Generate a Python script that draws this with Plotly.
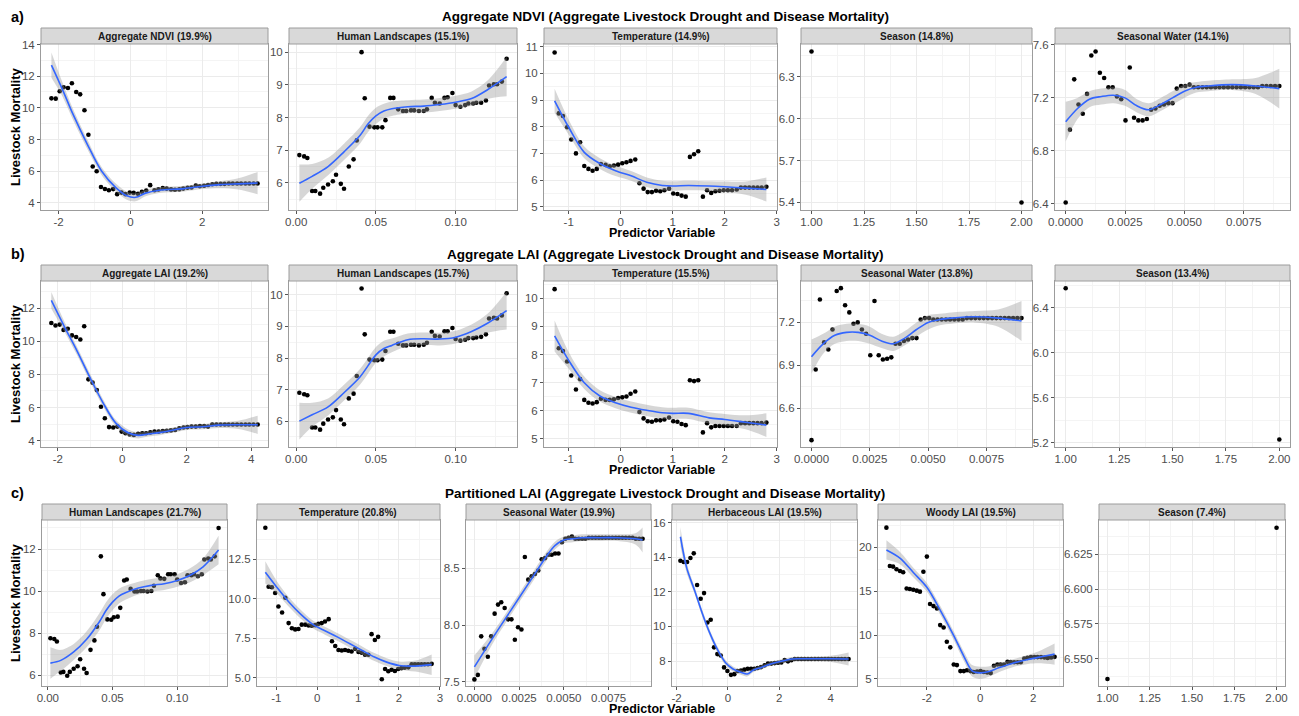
import plotly.graph_objects as go

W, H = 1299, 716
FONT = "Liberation Sans, Arial, Helvetica, sans-serif"

# ======================= DATA =======================
row_titles = ["Aggregate NDVI (Aggregate Livestock Drought and Disease Mortality)",
              "Aggregate LAI (Aggregate Livestock Drought and Disease Mortality)",
              "Partitioned LAI (Aggregate Livestock Drought and Disease Mortality)"]
row_tags = ["a)", "b)", "c)"]
y_title = "Livestock Mortality"
x_title = "Predictor Variable"

strip_a = ["Aggregate NDVI (19.9%)", "Human Landscapes (15.1%)", "Temperature (14.9%)",
           "Season (14.8%)", "Seasonal Water (14.1%)"]
strip_b = ["Aggregate LAI (19.2%)", "Human Landscapes (15.7%)", "Temperature (15.5%)",
           "Seasonal Water (13.8%)", "Season (13.4%)"]
strip_c = ["Human Landscapes (21.7%)", "Temperature (20.8%)", "Seasonal Water (19.9%)",
           "Herbaceous LAI (19.5%)", "Woody LAI (19.5%)", "Season (7.4%)"]

# shared predictor grids
hl_x = [0.002,0.005,0.007,0.010,0.012,0.015,0.017,0.020,0.023,0.025,0.028,0.030,0.033,0.036,0.038,
        0.041,0.043,0.046,0.049,0.051,0.054,0.056,0.059,0.061,0.064,0.067,0.069,0.072,0.074,0.077,
        0.080,0.082,0.085,0.087,0.090,0.093,0.095,0.098,0.100,0.103,0.106,0.108,0.111,0.113,0.116,
        0.119,0.121,0.124,0.126,0.129,0.132]
temp_x = [-1.27,-1.19,-1.11,-1.03,-0.95,-0.86,-0.78,-0.70,-0.62,-0.54,-0.46,-0.38,-0.29,-0.21,-0.13,
          -0.05,0.03,0.11,0.19,0.28,0.36,0.44,0.52,0.60,0.68,0.76,0.84,0.93,1.01,1.09,1.17,1.25,
          1.33,1.41,1.49,1.58,1.66,1.74,1.82,1.90,1.98,2.06,2.14,2.23,2.31,2.39,2.47,2.55,2.63,
          2.71,2.80]
sw_x = [0.00000,0.00018,0.00036,0.00054,0.00072,0.00090,0.00108,0.00126,0.00144,0.00162,0.00180,
        0.00198,0.00216,0.00234,0.00252,0.00270,0.00288,0.00306,0.00324,0.00342,0.00360,0.00378,
        0.00396,0.00414,0.00432,0.00450,0.00468,0.00486,0.00504,0.00522,0.00540,0.00558,0.00576,
        0.00594,0.00612,0.00630,0.00648,0.00666,0.00684,0.00702,0.00720,0.00738,0.00756,0.00774,
        0.00792,0.00810,0.00828,0.00846,0.00864,0.00882,0.00900]
season_x = [1.0, 2.0]
hl_fx = [0.002,0.01,0.02,0.03,0.04,0.045,0.05,0.055,0.06,0.07,0.08,0.09,0.10,0.11,0.12,0.132]
temp_fx = [-1.27,-1.0,-0.7,-0.4,-0.1,0.2,0.5,0.8,1.0,1.3,1.7,2.0,2.4,2.8]
sw_fx = [0.0,0.0005,0.001,0.0015,0.002,0.0025,0.003,0.0035,0.004,0.0045,0.005,0.0055,0.006,0.007,0.008,0.009]

# ---- row a ----
a1_x = [-2.20,-2.08,-1.97,-1.86,-1.74,-1.63,-1.51,-1.40,-1.28,-1.17,-1.05,-0.94,-0.82,-0.71,-0.60,
        -0.48,-0.37,-0.25,-0.14,-0.02,0.09,0.21,0.32,0.44,0.55,0.67,0.78,0.90,1.01,1.13,1.24,1.36,
        1.47,1.59,1.70,1.82,1.93,2.05,2.16,2.28,2.39,2.51,2.62,2.74,2.85,2.97,3.08,3.20,3.31,3.43,3.54]
a1_y = [10.60,10.58,11.05,11.30,11.25,11.55,11.00,10.85,9.85,8.30,6.30,6.00,5.00,4.88,4.80,4.87,
        4.55,4.65,4.55,4.65,4.63,4.58,4.70,4.78,5.12,4.80,4.85,4.93,4.90,4.85,4.83,4.85,4.90,4.95,
        4.97,5.10,5.05,5.08,5.13,5.18,5.20,5.20,5.20,5.22,5.22,5.22,5.22,5.22,5.22,5.22,5.22]
a1_fx = [-2.20,-1.90,-1.60,-1.20,-0.80,-0.40,-0.10,0.15,0.40,0.80,1.50,2.00,2.50,3.00,3.54]
a1_fy = [12.70,11.20,9.60,7.70,6.00,4.95,4.45,4.35,4.60,4.80,4.90,5.05,5.15,5.20,5.25]
a1_se = [0.80,0.45,0.35,0.30,0.25,0.25,0.25,0.25,0.20,0.18,0.18,0.18,0.22,0.35,0.70]

a2_y = [6.85,6.81,6.76,5.75,5.75,5.67,5.85,5.95,6.05,6.25,5.97,5.82,6.50,6.72,7.30,10.00,8.59,
        7.72,7.70,7.70,7.70,7.92,8.60,8.60,8.25,8.20,8.20,8.22,8.22,8.20,8.20,8.25,8.60,8.45,8.43,
        8.60,8.62,8.75,8.38,8.33,8.38,8.43,8.43,8.45,8.45,8.52,8.98,9.02,9.02,9.10,9.80]
a2_fy = [5.99,6.20,6.50,6.95,7.45,7.80,8.05,8.20,8.27,8.33,8.35,8.40,8.47,8.58,8.85,9.25]
a2_se = [0.57,0.38,0.27,0.25,0.25,0.25,0.25,0.22,0.22,0.20,0.20,0.20,0.20,0.22,0.28,0.60]

a3_y = [10.78,8.50,8.40,7.98,7.52,7.00,7.42,6.53,6.42,6.35,6.42,6.60,6.57,6.52,6.55,6.58,6.63,
        6.67,6.72,6.77,5.88,5.68,5.55,5.55,5.60,5.58,5.62,5.68,5.50,5.48,5.42,5.38,6.87,6.97,7.08,
        5.38,5.62,5.52,5.58,5.60,5.62,5.62,5.62,5.65,5.72,5.72,5.72,5.72,5.72,5.72,5.75]
a3_fy = [8.97,7.98,7.04,6.62,6.35,6.16,5.92,5.80,5.78,5.80,5.78,5.75,5.70,5.65]
a3_se = [0.45,0.28,0.22,0.20,0.20,0.18,0.18,0.18,0.18,0.18,0.18,0.20,0.25,0.45]

a4_y = [6.48, 5.40]

a5_y = [6.41,6.96,7.34,7.15,7.08,7.23,7.52,7.55,7.39,7.35,7.28,7.28,7.21,7.19,7.03,7.43,7.05,
        7.03,7.03,7.04,7.11,7.12,7.14,7.15,7.16,7.16,7.27,7.29,7.29,7.30,7.28,7.28,7.28,7.28,7.28,
        7.28,7.28,7.28,7.28,7.28,7.28,7.28,7.28,7.28,7.28,7.28,7.29,7.29,7.29,7.29,7.29]
a5_fy = [7.02,7.12,7.19,7.21,7.22,7.20,7.14,7.11,7.15,7.20,7.25,7.28,7.29,7.30,7.29,7.27]
a5_se = [0.15,0.08,0.06,0.06,0.06,0.06,0.05,0.05,0.05,0.05,0.05,0.04,0.04,0.04,0.06,0.15]

# ---- row b ----
b1_x = [-2.20,-2.07,-1.94,-1.82,-1.69,-1.56,-1.43,-1.30,-1.18,-1.05,-0.92,-0.79,-0.66,-0.54,-0.41,
        -0.28,-0.15,-0.02,0.10,0.23,0.36,0.49,0.62,0.74,0.87,1.00,1.13,1.26,1.38,1.51,1.64,1.77,
        1.90,2.02,2.15,2.28,2.41,2.54,2.66,2.79,2.92,3.05,3.18,3.30,3.43,3.56,3.69,3.82,3.94,4.07,4.20]
b1_y = [11.10,10.95,11.00,10.68,10.75,10.35,10.25,10.10,10.90,7.70,7.50,7.05,6.05,5.35,4.82,4.80,
        4.85,4.55,4.45,4.38,4.35,4.42,4.45,4.45,4.50,4.55,4.55,4.58,4.60,4.62,4.65,4.75,4.80,4.82,
        4.85,4.85,4.88,4.88,4.85,4.98,4.98,4.98,4.98,4.98,4.98,4.98,4.98,4.98,4.98,4.98,4.98]
b1_fx = [-2.2,-1.8,-1.4,-1.0,-0.6,-0.2,0.2,0.5,0.8,1.2,1.6,2.0,2.5,3.0,3.6,4.2]
b1_fy = [12.46,10.90,9.40,7.80,6.30,5.06,4.46,4.32,4.40,4.50,4.64,4.80,4.84,4.94,4.96,4.96]
b1_se = [0.50,0.30,0.25,0.25,0.22,0.20,0.20,0.18,0.15,0.15,0.15,0.15,0.15,0.18,0.25,0.55]

b2_y = [6.90,6.85,6.82,5.80,5.80,5.73,5.92,6.05,6.12,6.35,6.05,5.90,6.72,6.87,7.43,10.20,8.75,
        7.95,7.93,7.93,7.95,8.22,8.83,8.83,8.45,8.40,8.40,8.42,8.42,8.40,8.42,8.48,8.83,8.70,8.68,
        8.85,8.85,8.95,8.60,8.55,8.58,8.63,8.63,8.65,8.67,8.75,9.25,9.27,9.25,9.35,10.05]
b2_fy = [6.00,6.20,6.45,6.90,7.40,7.75,8.10,8.30,8.40,8.58,8.61,8.60,8.66,8.84,9.10,9.50]
b2_se = [0.58,0.38,0.27,0.25,0.25,0.25,0.25,0.25,0.22,0.20,0.20,0.20,0.20,0.22,0.30,0.60]

b3_y = [10.33,8.22,8.12,7.75,7.25,6.75,7.12,6.38,6.28,6.25,6.30,6.42,6.38,6.38,6.40,6.45,6.47,
        6.50,6.60,6.68,5.95,5.72,5.62,5.60,5.65,5.65,5.68,5.75,5.62,5.60,5.52,5.48,7.08,7.05,7.08,
        5.22,5.55,5.40,5.45,5.45,5.45,5.45,5.45,5.45,5.55,5.55,5.55,5.55,5.55,5.55,5.57]
b3_fy = [8.66,7.79,6.99,6.52,6.28,6.12,6.01,5.92,5.90,5.90,5.74,5.68,5.58,5.48]
b3_se = [0.55,0.30,0.22,0.20,0.20,0.20,0.20,0.20,0.20,0.20,0.20,0.20,0.25,0.42]

b4_y = [6.375,6.87,7.36,7.06,7.01,7.15,7.42,7.44,7.32,7.27,7.19,7.20,7.15,7.12,6.97,7.35,6.97,
        6.94,6.945,6.955,7.05,7.05,7.07,7.08,7.09,7.09,7.22,7.23,7.23,7.22,7.22,7.22,7.22,7.22,
        7.22,7.22,7.22,7.23,7.23,7.23,7.23,7.23,7.23,7.23,7.23,7.23,7.23,7.23,7.23,7.23,7.23]
b4_fy = [6.96,7.05,7.11,7.13,7.13,7.11,7.07,7.05,7.09,7.15,7.20,7.22,7.23,7.24,7.23,7.21]
b4_se = [0.12,0.07,0.06,0.06,0.06,0.06,0.05,0.05,0.05,0.05,0.05,0.04,0.04,0.04,0.06,0.14]

b5_y = [6.575, 5.227]

# ---- row c ----
c1_y = [7.75,7.72,7.60,6.12,6.15,5.97,6.15,6.30,6.42,6.75,6.30,6.10,7.20,7.65,8.30,11.65,9.85,
        8.65,8.63,8.75,8.78,9.20,10.50,10.55,10.10,9.98,9.98,10.00,10.00,9.98,10.00,10.25,10.75,
        10.60,10.58,10.80,10.80,10.80,10.55,10.38,10.42,10.75,10.75,10.80,10.70,10.80,11.50,11.55,
        11.50,11.65,13.00]
c1_fy = [6.57,6.70,7.10,7.70,8.55,9.07,9.47,9.76,9.92,10.14,10.27,10.35,10.50,10.75,11.15,11.95]
c1_se = [0.75,0.50,0.38,0.38,0.40,0.40,0.38,0.35,0.33,0.30,0.30,0.30,0.30,0.33,0.40,0.68]

c2_y = [14.48,10.75,10.72,10.35,9.50,9.12,10.05,8.45,8.12,8.05,8.08,8.35,8.35,8.30,8.28,8.32,8.40,
        8.45,8.55,8.70,7.30,7.00,6.75,6.72,6.75,6.70,6.65,6.82,6.62,6.58,6.45,6.45,7.75,7.38,7.58,
        4.90,5.55,5.40,5.50,5.42,5.55,5.60,5.62,5.65,5.85,5.85,5.85,5.85,5.85,5.85,5.87]
c2_fx = [-1.27,-1.0,-0.7,-0.4,-0.1,0.2,0.5,0.8,1.1,1.4,1.7,2.0,2.4,2.8]
c2_fy = [11.66,10.75,9.80,9.00,8.35,7.95,7.56,7.14,6.72,6.30,5.98,5.77,5.73,5.82]
c2_se = [0.70,0.40,0.30,0.28,0.25,0.25,0.25,0.25,0.25,0.25,0.25,0.25,0.35,0.65]

c3_x = [0.00000,0.00019,0.00038,0.00056,0.00075,0.00094,0.00113,0.00132,0.00150,0.00169,0.00188,
        0.00207,0.00226,0.00244,0.00263,0.00282,0.00301,0.00320,0.00338,0.00357,0.00376,0.00395,
        0.00414,0.00432,0.00451,0.00470,0.00489,0.00508,0.00526,0.00545,0.00564,0.00583,0.00602,
        0.00620,0.00639,0.00658,0.00677,0.00696,0.00714,0.00733,0.00752,0.00771,0.00790,0.00808,
        0.00827,0.00846,0.00865,0.00884,0.00902,0.00921,0.00940]
c3_y = [7.52,7.56,7.90,7.79,7.72,7.90,8.10,8.18,8.20,8.15,8.05,8.05,7.87,7.98,7.96,8.60,8.40,8.43,
        8.45,8.48,8.58,8.59,8.62,8.62,8.63,8.63,8.73,8.76,8.77,8.78,8.76,8.76,8.76,8.76,8.77,8.77,
        8.77,8.77,8.77,8.77,8.77,8.77,8.77,8.77,8.77,8.77,8.77,8.77,8.76,8.76,8.76]
c3_fx = [0.0,0.001,0.002,0.003,0.004,0.0045,0.005,0.0055,0.006,0.007,0.008,0.009,0.0094]
c3_fy = [7.63,7.88,8.12,8.36,8.60,8.70,8.75,8.76,8.77,8.77,8.77,8.76,8.75]
c3_se = [0.10,0.05,0.04,0.04,0.04,0.035,0.03,0.03,0.03,0.03,0.03,0.05,0.11]

c4_x = [-1.85,-1.72,-1.59,-1.46,-1.33,-1.20,-1.06,-0.93,-0.80,-0.67,-0.54,-0.41,-0.28,-0.15,-0.02,
        0.12,0.25,0.38,0.51,0.64,0.77,0.90,1.03,1.16,1.29,1.43,1.56,1.69,1.82,1.95,2.08,2.21,2.34,
        2.47,2.60,2.73,2.86,2.99,3.12,3.25,3.39,3.52,3.65,3.78,3.91,4.04,4.17,4.30,4.43,4.56,4.70]
c4_y = [13.80,13.73,13.73,13.96,14.23,12.40,11.60,11.93,10.23,10.39,8.79,8.40,8.32,7.63,7.42,7.20,
        7.24,7.42,7.45,7.50,7.55,7.55,7.55,7.60,7.65,7.75,7.85,7.85,7.88,7.90,7.92,8.05,7.98,8.05,
        8.12,8.12,8.12,8.12,8.12,8.12,8.12,8.12,8.12,8.12,8.12,8.12,8.12,8.12,8.12,8.12,8.12]
c4_fx = [-1.85,-1.6,-1.3,-1.0,-0.7,-0.4,-0.1,0.2,0.5,0.75,1.0,1.3,1.6,2.0,2.5,3.0,4.0,4.7]
c4_fy = [15.19,13.36,12.10,10.77,9.60,8.64,7.92,7.54,7.35,7.25,7.48,7.63,7.80,7.96,8.12,8.13,8.13,8.12]
c4_se = [0.55,0.30,0.20,0.20,0.18,0.18,0.15,0.15,0.15,0.15,0.12,0.12,0.12,0.12,0.12,0.12,0.18,0.38]

c5_x = [-3.52,-3.39,-3.27,-3.14,-3.01,-2.89,-2.76,-2.64,-2.51,-2.38,-2.26,-2.13,-2.00,-1.88,-1.75,
        -1.62,-1.50,-1.37,-1.25,-1.12,-0.99,-0.87,-0.74,-0.61,-0.49,-0.36,-0.24,-0.11,0.02,0.14,
        0.27,0.40,0.52,0.65,0.77,0.90,1.03,1.15,1.28,1.41,1.53,1.66,1.78,1.91,2.04,2.16,2.29,2.42,
        2.54,2.67,2.80]
c5_y = [22.24,17.87,17.80,17.50,17.30,17.15,15.30,15.25,15.17,15.06,14.95,17.22,18.94,13.54,13.30,
        13.04,11.14,10.87,9.24,8.60,6.65,6.58,5.90,5.90,6.00,5.90,5.80,5.85,5.90,5.80,5.74,5.67,6.50,
        6.65,6.65,6.65,6.95,6.92,6.90,6.90,6.90,7.33,7.40,7.49,7.49,7.49,7.49,7.45,7.40,7.45,7.52]
c5_fx = [-3.52,-3.0,-2.5,-2.0,-1.5,-1.0,-0.6,-0.3,0.0,0.3,0.7,1.2,1.8,2.3,2.8]
c5_fy = [19.70,18.75,17.10,15.44,12.85,10.00,7.53,5.93,5.70,5.82,6.27,6.77,7.22,7.53,7.83]
c5_se = [1.10,0.70,0.55,0.50,0.50,0.50,0.55,0.65,0.70,0.60,0.50,0.45,0.50,0.75,1.20]

c6_y = [6.5357, 6.6438]

# tick values (axis labels)
t_a1x = [-2, 0, 2];          t_a1y = [4, 6, 8, 10, 12, 14]
t_hlx = [0.0, 0.05, 0.10];   t_a2y = [6, 7, 8, 9, 10]
t_tx = [-1, 0, 1, 2, 3];     t_a3y = [5, 6, 7, 8, 9, 10, 11]
t_sx = [1.0, 1.25, 1.5, 1.75, 2.0]; t_a4y = [5.4, 5.7, 6.0, 6.3]
t_swx = [0.0, 0.0025, 0.005, 0.0075]; t_a5y = [6.4, 6.8, 7.2, 7.6]
t_b1x = [-2, 0, 2, 4];       t_b1y = [4, 6, 8, 10, 12]
t_b2y = [6, 7, 8, 9, 10]
t_b3y = [5, 6, 7, 8, 9, 10]
t_b4y = [6.6, 6.9, 7.2]
t_b5y = [5.2, 5.6, 6.0, 6.4]
t_c1y = [6, 8, 10, 12]
t_c2y = [5.0, 7.5, 10.0, 12.5]
t_c3y = [7.5, 8.0, 8.5]
t_c4x = [-2, 0, 2, 4];       t_c4y = [8, 10, 12, 14, 16]
t_c5x = [-2, 0, 2];          t_c5y = [5, 10, 15, 20]
t_c6y = [6.550, 6.575, 6.600, 6.625]

# ======================= LAYOUT =======================
ROWS = {"a": (28, 44, 210), "b": (265, 281, 447), "c": (504, 520, 686)}
COLS_AB = [(41, 268), (289, 517), (544, 777), (801, 1032), (1055, 1290)]
COLS_C = [(42, 227), (257, 440), (466, 651), (672, 857), (878, 1063), (1099, 1285)]

panels = [
    ("a", COLS_AB[0], strip_a[0], a1_x, a1_y, a1_fx, a1_fy, a1_se, [-2.49, 3.83], [3.55, 14.03], t_a1x, t_a1y, "{:.0f}", "{:.0f}"),
    ("a", COLS_AB[1], strip_a[1], hl_x, a2_y, hl_fx, a2_fy, a2_se, [-0.0045, 0.1385], [5.17, 10.25], t_hlx, t_a2y, "{:.2f}", "{:.0f}"),
    ("a", COLS_AB[2], strip_a[2], temp_x, a3_y, temp_fx, a3_fy, a3_se, [-1.474, 3.004], [4.88, 11.1], t_tx, t_a3y, "{:.0f}", "{:.0f}"),
    ("a", COLS_AB[3], strip_a[3], season_x, a4_y, None, None, None, [0.95, 2.05], [5.346, 6.534], t_sx, t_a4y, "{:.2f}", "{:.1f}"),
    ("a", COLS_AB[4], strip_a[4], sw_x, a5_y, sw_fx, a5_fy, a5_se, [-0.00045, 0.00945], [6.353, 7.607], t_swx, t_a5y, "{:.4f}", "{:.1f}"),
    ("b", COLS_AB[0], strip_b[0], b1_x, b1_y, b1_fx, b1_fy, b1_se, [-2.52, 4.52], [3.62, 13.63], t_b1x, t_b1y, "{:.0f}", "{:.0f}"),
    ("b", COLS_AB[1], strip_b[1], hl_x, b2_y, hl_fx, b2_fy, b2_se, [-0.0045, 0.1385], [5.18, 10.44], t_hlx, t_b2y, "{:.2f}", "{:.0f}"),
    ("b", COLS_AB[2], strip_b[2], temp_x, b3_y, temp_fx, b3_fy, b3_se, [-1.474, 3.004], [4.70, 10.62], t_tx, t_b3y, "{:.0f}", "{:.0f}"),
    ("b", COLS_AB[3], strip_b[3], sw_x, b4_y, sw_fx, b4_fy, b4_se, [-0.00045, 0.00945], [6.327, 7.49], t_swx, t_b4y, "{:.4f}", "{:.1f}"),
    ("b", COLS_AB[4], strip_b[4], season_x, b5_y, None, None, None, [0.95, 2.05], [5.16, 6.64], t_sx, t_b5y, "{:.2f}", "{:.1f}"),
    ("c", COLS_C[0], strip_c[0], hl_x, c1_y, hl_fx, c1_fy, c1_se, [-0.0045, 0.1385], [5.48, 13.38], t_hlx, t_c1y, "{:.2f}", "{:.0f}"),
    ("c", COLS_C[1], strip_c[1], temp_x, c2_y, c2_fx, c2_fy, c2_se, [-1.474, 3.004], [4.47, 14.97], t_tx, t_c2y, "{:.0f}", "{:.1f}"),
    ("c", COLS_C[2], strip_c[2], c3_x, c3_y, c3_fx, c3_fy, c3_se, [-0.00047, 0.00987], [7.462, 8.926], t_swx, t_c3y, "{:.4f}", "{:.1f}"),
    ("c", COLS_C[3], strip_c[3], c4_x, c4_y, c4_fx, c4_fy, c4_se, [-2.1775, 5.0275], [6.555, 16.16], t_c4x, t_c4y, "{:.0f}", "{:.0f}"),
    ("c", COLS_C[4], strip_c[4], c5_x, c5_y, c5_fx, c5_fy, c5_se, [-3.836, 3.116], [4.2, 23.11], t_c5x, t_c5y, "{:.0f}", "{:.0f}"),
    ("c", COLS_C[5], strip_c[5], season_x, c6_y, None, None, None, [0.95, 2.05], [6.5307, 6.6493], t_sx, t_c6y, "{:.2f}", "{:.3f}"),
]

BORDER = "#9C9C9C"
GRID = "#EBEBEB"
MINOR = "#F4F4F4"
TICKC = "#4D4D4D"


def px(x):
    return x / W


def py(y):
    return 1 - y / H


def minors(t):
    step = t[1] - t[0]
    return [t[0] - step / 2] + [(a + b) / 2 for a, b in zip(t, t[1:])] + [t[-1] + step / 2]


fig = go.Figure()
shapes, annotations = [], []
layout_axes = {}

for n, (row, (x0, x1), strip, xs, ys, fx, fy, se, xr, yr, xt, yt, xf, yf) in enumerate(panels, start=1):
    s_top, p_top, p_bot = ROWS[row]
    xa = "x" if n == 1 else f"x{n}"
    ya = "y" if n == 1 else f"y{n}"
    xkey = "xaxis" if n == 1 else f"xaxis{n}"
    ykey = "yaxis" if n == 1 else f"yaxis{n}"

    common = dict(showline=True, mirror=True, linecolor=BORDER, linewidth=1,
                  ticks="outside", ticklen=3, tickwidth=1, tickcolor="#555555",
                  showgrid=True, gridcolor=GRID, gridwidth=1, zeroline=False, automargin=False,
                  tickfont=dict(family=FONT, size=11.5, color=TICKC), fixedrange=True)
    layout_axes[xkey] = dict(common, domain=[px(x0), px(x1)], anchor=ya, range=xr,
                             tickmode="array", tickvals=xt, ticktext=[xf.format(v) for v in xt],
                             ticklabelstandoff=-2,
                             minor=dict(tickmode="array", tickvals=minors(xt), showgrid=True,
                                        gridcolor=MINOR, gridwidth=0.6, ticks=""))
    layout_axes[ykey] = dict(common, domain=[py(p_bot), py(p_top)], anchor=xa, range=yr,
                             tickmode="array", tickvals=yt, ticktext=[yf.format(v) for v in yt],
                             minor=dict(tickmode="array", tickvals=minors(yt), showgrid=True,
                                        gridcolor=MINOR, gridwidth=0.6, ticks=""))

    fig.add_trace(go.Scatter(x=xs, y=ys, mode="markers", xaxis=xa, yaxis=ya,
                             marker=dict(color="black", size=4.6), hoverinfo="skip"))
    if fx is not None:
        lo = [a - b for a, b in zip(fy, se)]
        hi = [a + b for a, b in zip(fy, se)]
        fig.add_trace(go.Scatter(x=fx, y=lo, mode="lines", xaxis=xa, yaxis=ya,
                                 line=dict(width=0, shape="spline", smoothing=0.9), hoverinfo="skip"))
        fig.add_trace(go.Scatter(x=fx, y=hi, mode="lines", xaxis=xa, yaxis=ya, fill="tonexty",
                                 fillcolor="rgba(153,153,153,0.4)",
                                 line=dict(width=0, shape="spline", smoothing=0.9), hoverinfo="skip"))
        fig.add_trace(go.Scatter(x=fx, y=fy, mode="lines", xaxis=xa, yaxis=ya,
                                 line=dict(color="#3366FF", width=1.6, shape="spline", smoothing=0.9),
                                 hoverinfo="skip"))

    shapes.append(dict(type="rect", xref="paper", yref="paper", x0=px(x0), x1=px(x1),
                       y0=py(p_top), y1=py(s_top), fillcolor="#D9D9D9",
                       line=dict(color=BORDER, width=1), layer="above"))
    annotations.append(dict(xref="paper", yref="paper", x=px((x0 + x1) / 2), y=py((s_top + p_top) / 2),
                            text=f"<b>{strip}</b>", showarrow=False, xanchor="center", yanchor="middle",
                            font=dict(family=FONT, size=10, color="#1A1A1A")))

for (row, (s_top, p_top, p_bot)), title, tag in zip(ROWS.items(), row_titles, row_tags):
    ty = s_top - 11
    annotations.append(dict(xref="paper", yref="paper", x=px(665), y=py(ty), text=f"<b>{title}</b>",
                            showarrow=False, xanchor="center", yanchor="middle",
                            font=dict(family=FONT, size=13.5, color="black")))
    annotations.append(dict(xref="paper", yref="paper", x=px(9), y=py(ty), text=f"<b>{tag}</b>",
                            showarrow=False, xanchor="left", yanchor="middle",
                            font=dict(family=FONT, size=14.5, color="black")))
    annotations.append(dict(xref="paper", yref="paper", x=px(15), y=py((p_top + p_bot) / 2),
                            text=f"<b>{y_title}</b>", showarrow=False, textangle=-90,
                            xanchor="center", yanchor="middle",
                            font=dict(family=FONT, size=13, color="black")))
    annotations.append(dict(xref="paper", yref="paper", x=px(662), y=py(p_bot + 23),
                            text=f"<b>{x_title}</b>", showarrow=False, xanchor="center", yanchor="middle",
                            font=dict(family=FONT, size=12.5, color="black")))

fig.update_layout(width=W, height=H, margin=dict(l=0, r=0, t=0, b=0, autoexpand=False),
                  paper_bgcolor="white", plot_bgcolor="white", showlegend=False,
                  font=dict(family=FONT), shapes=shapes, annotations=annotations, **layout_axes)

fig.write_html("out.html", config={"displayModeBar": False},
               post_script="document.body.style.margin='0px';document.body.style.overflow='hidden';")
